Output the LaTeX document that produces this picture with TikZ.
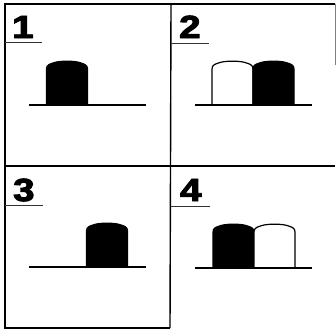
\documentclass[tikz,border=0pt]{standalone}
\usepackage{fontspec}
\newfontfamily\numfont{Liberation Sans}[BoldFeatures={FakeBold=3}]
\tikzset{
  frame/.style={line width=1.4pt, black},
  ground/.style={line width=1.4pt, black},
  uline/.style={line width=0.9pt, black!80},
  digit/.style={anchor=base west, inner sep=0pt, font=\numfont\bfseries\fontsize{32}{32}\selectfont},
  dome/.pic={\draw[line width=1.2pt, pic actions] (0,0) -- (0,-36) .. controls (0,-40) and (3,-41) .. (8,-42.5) .. controls (14,-44.3) and (27,-44.3) .. (33,-42.5) .. controls (38,-41) and (41,-40) .. (41,-36) -- (41,0);}
}
\begin{document}
\begin{tikzpicture}[x=1pt,y=-1pt]
\useasboundingbox (0,0) rectangle (336,329);
% frame
\coordinate (tl) at (5,4);
\coordinate (tr) at (335,4);
\coordinate (bl) at (5,328);
\coordinate (bm) at (170,328);
\coordinate (tm) at (171,4);
\coordinate (ml) at (5,166);
\coordinate (mr) at (335,166);
\coordinate (rr) at (335,65);
\draw[frame] (tr) -- (tl) -- (bl) -- (bm);
\draw[frame] (tm) -- (bm);
\draw[frame] (ml) -- (mr);
\draw[line width=1pt, black!50] (tr) -- (rr);
% labels
\node[digit] (n1) at (12,38) {\scalebox{1.2}[1]{1}};
\node[digit] (n2) at (179,38) {\scalebox{1.2}[1]{2}};
\node[digit] (n3) at (13,201) {\scalebox{1.2}[1]{3}};
\node[digit] (n4) at (180,201) {\scalebox{1.2}[1]{4}};
\coordinate (u1a) at (5,42); \coordinate (u1b) at (42,42);
\coordinate (u2a) at (171,43); \coordinate (u2b) at (209,43);
\coordinate (u3a) at (5,205); \coordinate (u3b) at (43,205);
\coordinate (u4a) at (171,206); \coordinate (u4b) at (210,206);
\draw[uline] (u1a) -- (u1b);
\draw[uline] (u2a) -- (u2b);
\draw[uline] (u3a) -- (u3b);
\draw[uline] (u4a) -- (u4b);
% panel 1
\pic[fill=black] at (46.5,105) {dome};
% panel 2
\pic[fill=white] at (212,105) {dome};
\pic[fill=black] at (253,105) {dome};
% panel 3
\pic[fill=black] at (86.5,267) {dome};
% panel 4
\pic[fill=black] at (213,268) {dome};
\pic[fill=white] at (254,268) {dome};
% grounds
\coordinate (g1a) at (29,105); \coordinate (g1b) at (146,105);
\coordinate (g2a) at (195,105); \coordinate (g2b) at (312,105);
\coordinate (g3a) at (29,267); \coordinate (g3b) at (146,267);
\coordinate (g4a) at (195,268); \coordinate (g4b) at (312,268);
\draw[ground] (g1a) -- (g1b);
\draw[ground] (g2a) -- (g2b);
\draw[ground] (g3a) -- (g3b);
\draw[ground] (g4a) -- (g4b);
\end{tikzpicture}
\end{document}
